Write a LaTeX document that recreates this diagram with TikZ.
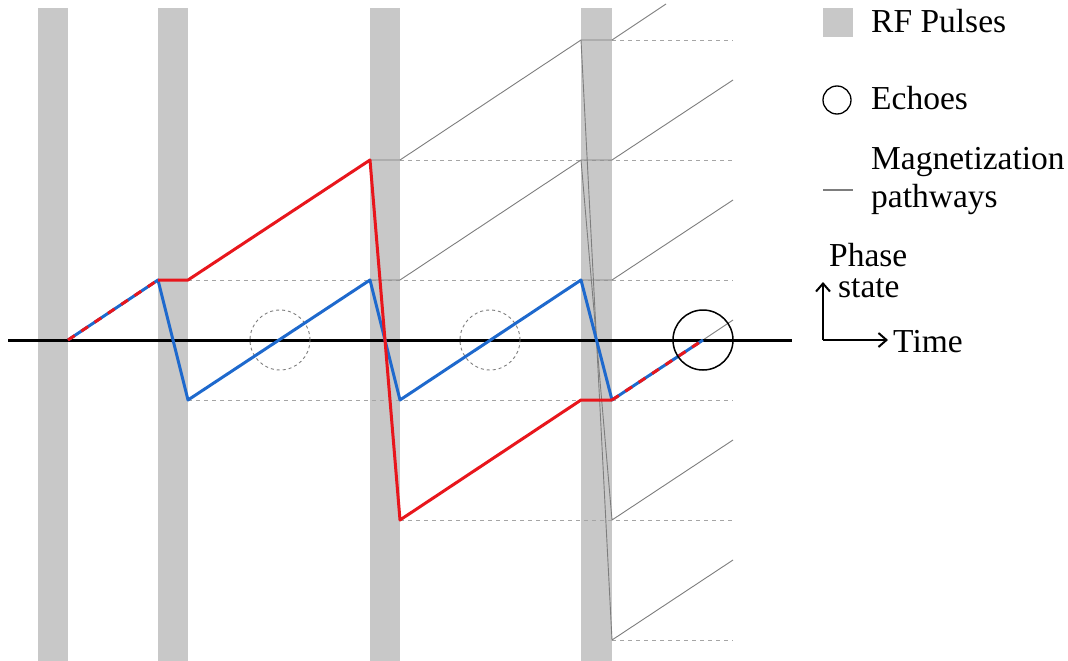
\documentclass[tikz,border=0pt]{standalone}
\usepackage{fontspec}
\setmainfont{Liberation Serif}
\newfontfamily\lblfont{Liberation Serif}
\usetikzlibrary{arrows.meta}
\definecolor{pulsegray}{RGB}{200,200,200}
\definecolor{pathred}{RGB}{232,22,28}
\definecolor{pathblue}{RGB}{30,105,205}
\definecolor{pathgray}{RGB}{125,125,125}
\definecolor{levelgray}{RGB}{165,165,165}
\begin{document}
\begin{tikzpicture}[x=1pt,y=-1pt,
  pulse/.style={fill=pulsegray,draw=none},
  level/.style={draw=levelgray,line width=0.9pt,dash pattern=on 4pt off 4pt},
  pway/.style={draw=pathgray,line width=0.9pt,line join=round},
  redpath/.style={draw=pathred,line width=3pt,line join=round},
  bluepath/.style={draw=pathblue,line width=3pt,line join=round},
  mixdash/.style={draw=pathred,line width=3pt,dash pattern=on 8pt off 8pt},
  echoghost/.style={draw=pathgray,line width=0.9pt,dash pattern=on 3pt off 3pt},
  echo/.style={draw=black,line width=1.5pt},
  lbl/.style={anchor=base west,inner sep=0pt,font=\lblfont\fontsize{33.5}{38}\selectfont},
  axisarrow/.style={draw=black,line width=2pt,-{Straight Barb[length=8pt,width=14pt,line width=2pt]}}
]
\useasboundingbox (0,0) rectangle (1068,661);
% RF pulses
\fill[pulse] (38,8) rectangle (68,661);
\fill[pulse] (158,8) rectangle (188,661);
\fill[pulse] (370,8) rectangle (400,661);
\fill[pulse] (581,8) rectangle (612,661);
% key points
\coordinate (s0) at (68,340);
\coordinate (a1) at (158,280);
\coordinate (b1) at (188,280);
\coordinate (bm1) at (188,400);
\coordinate (c3) at (370,160);
\coordinate (c1) at (370,280);
\coordinate (d3) at (400,160);
\coordinate (d1) at (400,280);
\coordinate (dm1) at (400,400);
\coordinate (dm3) at (400,520);
\coordinate (e5) at (581,40);
\coordinate (e3) at (581,160);
\coordinate (e1) at (581,280);
\coordinate (em1) at (581,400);
\coordinate (f5) at (612,40);
\coordinate (f3) at (612,160);
\coordinate (f1) at (612,280);
\coordinate (fm1) at (612,400);
\coordinate (fm3) at (612,520);
\coordinate (fm5) at (612,640);
\coordinate (g0) at (703,340);
\coordinate (top5) at (666,4);
\coordinate (h3) at (733,80);
\coordinate (h1) at (733,200);
\coordinate (h0) at (733,320);
\coordinate (hm3) at (733,440);
\coordinate (hm5) at (733,560);
\coordinate (ax0) at (8,340);
\coordinate (ax1) at (792,340);
% level guides
\draw[level] (b1) -- (733,280);
\draw[level] (bm1) -- (733,400);
\draw[level] (d3) -- (733,160);
\draw[level] (dm3) -- (733,520);
\draw[level] (f5) -- (733,40);
\draw[level] (fm5) -- (733,640);
% gray pathways
\draw[pway] (c3) -- (d3) -- (e5) -- (f5) -- (top5);
\draw[pway] (c1) -- (d1) -- (e3) -- (f3) -- (h3);
\draw[pway] (e1) -- (f1) -- (h1);
\draw[pway] (e5) -- (fm5) -- (hm5);
\draw[pway] (e3) -- (fm3) -- (hm3);
\draw[pway] (g0) -- (h0);
% time axis
\draw[black,line width=3pt] (ax0) -- (ax1);
% echo markers
\node[echoghost,circle,minimum size=60pt,inner sep=0pt] (eg1) at (280,340) {};
\node[echoghost,circle,minimum size=60pt,inner sep=0pt] (eg2) at (490,340) {};
% coloured pathways
\draw[bluepath] (s0) -- (a1) -- (bm1) -- (c1) -- (dm1) -- (e1) -- (fm1) -- (g0);
\draw[redpath] (a1) -- (b1) -- (c3) -- (dm3) -- (em1) -- (fm1);
\draw[mixdash] (s0) -- (a1);
\draw[mixdash] (fm1) -- (g0);
\node[echo,circle,minimum size=60pt,inner sep=0pt] (echo3) at (g0) {};
% legend
\fill[pulse] (823,8) rectangle (853,37);
\node[lbl] (lrf) at (871,33) {RF Pulses};
\node[echo,circle,minimum size=28pt,inner sep=0pt,line width=1.3pt] (lecho) at (837,100) {};
\node[lbl] (lech) at (871,110) {Echoes};
\coordinate (lw0) at (823,190);
\coordinate (lw1) at (853,190);
\draw[pway,line width=1.1pt] (lw0) -- (lw1);
\node[lbl] (lmag) at (871,169) {Magnetization};
\node[lbl] (lpath) at (871,207) {pathways};
\node[lbl] (lphase) at (829,266) {Phase};
\node[lbl] (lstate) at (838,297) {state};
\node[lbl] (ltime) at (893,352) {Time};
\coordinate (corner) at (823,340);
\coordinate (upend) at (823,282);
\coordinate (rtend) at (888,340);
\draw[axisarrow] (corner) -- (upend);
\draw[axisarrow] (corner) -- (rtend);
\end{tikzpicture}
\end{document}
